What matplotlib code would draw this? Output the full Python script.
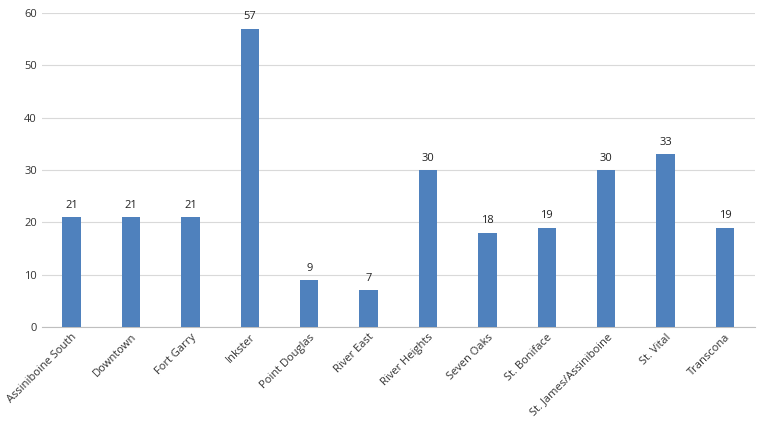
import matplotlib
matplotlib.use("Agg")
import matplotlib.pyplot as plt

categories = ["Assiniboine South", "Downtown", "Fort Garry", "Inkster", "Point Douglas",
              "River East", "River Heights", "Seven Oaks", "St. Boniface",
              "St. James/Assiniboine", "St. Vital", "Transcona"]
values = [21, 21, 21, 57, 9, 7, 30, 18, 19, 30, 33, 19]

plt.rcParams['font.family'] = ['Open Sans', 'DejaVu Sans']
fig = plt.figure(figsize=(7.6, 4.28), dpi=100)
ax = fig.add_axes([0.055, 0.236, 0.938, 0.734])
x = range(len(categories))
bars = ax.bar(x, values, width=0.31, color='#4F81BD', zorder=3)
for xi, v in zip(x, values):
    ax.text(xi, v + 1.2, str(v), ha='center', va='bottom', fontsize=8, color='#222222')
ax.set_ylim(0, 60)
ax.set_xlim(-0.5, len(categories) - 0.5)
ax.set_yticks(range(0, 61, 10))
ax.grid(axis='y', color='#D9D9D9', linewidth=0.8, zorder=0)
for s in ['top', 'right', 'left']:
    ax.spines[s].set_visible(False)
ax.spines['bottom'].set_color('#BFBFBF')
ax.tick_params(axis='both', length=0, labelsize=8, colors='#333333')
ax.set_xticks(list(x))
ax.set_xticklabels(categories, rotation=45, ha='right', rotation_mode='anchor')
fig.savefig('out.png', dpi=100)
